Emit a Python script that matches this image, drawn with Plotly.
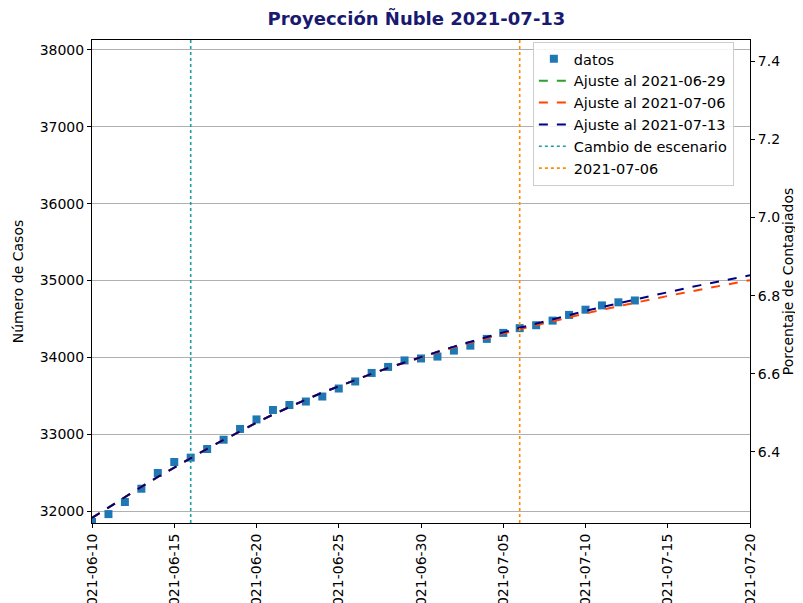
import plotly.graph_objects as go

# ---- data ----
fechas_datos = [
    "2021-06-10", "2021-06-11", "2021-06-12", "2021-06-13", "2021-06-14", "2021-06-15",
    "2021-06-16", "2021-06-17", "2021-06-18", "2021-06-19", "2021-06-20", "2021-06-21",
    "2021-06-22", "2021-06-23", "2021-06-24", "2021-06-25", "2021-06-26", "2021-06-27",
    "2021-06-28", "2021-06-29", "2021-06-30", "2021-07-01", "2021-07-02", "2021-07-03",
    "2021-07-04", "2021-07-05", "2021-07-06", "2021-07-07", "2021-07-08", "2021-07-09",
    "2021-07-10", "2021-07-11", "2021-07-12", "2021-07-13",
]
casos = [
    31857, 31960, 32117, 32290, 32495, 32638,
    32695, 32807, 32928, 33068, 33192, 33315,
    33380, 33425, 33490, 33594, 33686, 33797,
    33875, 33960, 33985, 34010, 34088, 34152,
    34240, 34318, 34380, 34418, 34478, 34552,
    34620, 34676, 34716, 34740,
]

fechas_ajuste = [
    "2021-06-10", "2021-06-11", "2021-06-12", "2021-06-13", "2021-06-14", "2021-06-15",
    "2021-06-16", "2021-06-17", "2021-06-18", "2021-06-19", "2021-06-20", "2021-06-21",
    "2021-06-22", "2021-06-23", "2021-06-24", "2021-06-25", "2021-06-26", "2021-06-27",
    "2021-06-28", "2021-06-29", "2021-06-30", "2021-07-01", "2021-07-02", "2021-07-03",
    "2021-07-04", "2021-07-05", "2021-07-06", "2021-07-07", "2021-07-08", "2021-07-09",
    "2021-07-10", "2021-07-11", "2021-07-12", "2021-07-13", "2021-07-14", "2021-07-15",
    "2021-07-16", "2021-07-17", "2021-07-18", "2021-07-19", "2021-07-20",
]
ajuste_0713 = [
    31910, 32047, 32182, 32314, 32443, 32569,
    32692, 32810, 32925, 33039, 33150, 33255,
    33355, 33450, 33540, 33625, 33707, 33786,
    33862, 33935, 34005, 34073, 34139, 34203,
    34265, 34325, 34384, 34441, 34497, 34551,
    34604, 34655, 34705, 34754, 34802, 34849,
    34895, 34940, 34984, 35027, 35068,
]
ajuste_0706 = [
    31910, 32047, 32182, 32314, 32443, 32569,
    32692, 32810, 32925, 33039, 33150, 33255,
    33355, 33450, 33540, 33625, 33707, 33786,
    33861, 33932, 34000, 34066, 34130, 34192,
    34252, 34310, 34366, 34420, 34472, 34523,
    34572, 34620, 34667, 34712, 34756, 34799,
    34841, 34882, 34922, 34961, 35005,
]
fechas_ajuste_0629 = fechas_ajuste[:27]
ajuste_0629 = [
    31912, 32049, 32184, 32316, 32445, 32571,
    32694, 32812, 32927, 33040, 33151, 33256,
    33356, 33451, 33541, 33626, 33707, 33786,
    33862, 33934, 34003, 34070, 34135, 34198,
    34259, 34318, 34376,
]

fecha_cambio = "2021-06-16"
fecha_ref = "2021-07-06"
poblacion = 511551
rango_casos = [31844, 38130]
rango_pct = [6.2184, 7.4537]
ticks_casos = [32000, 33000, 34000, 35000, 36000, 37000, 38000]
ticks_pct = [6.4, 6.6, 6.8, 7.0, 7.2, 7.4]
ticks_fechas = ["2021-06-10", "2021-06-15", "2021-06-20", "2021-06-25", "2021-06-30",
                "2021-07-05", "2021-07-10", "2021-07-15", "2021-07-20"]

FONT = "DejaVu Sans"
FS = 14

fig = go.Figure()
fig.add_trace(go.Scatter(x=fechas_datos, y=casos, mode="markers", name="datos",
                         marker=dict(symbol="square", size=8, color="#1f77b4")))
fig.add_trace(go.Scatter(x=fechas_ajuste_0629, y=ajuste_0629, mode="lines",
                         name="Ajuste al 2021-06-29",
                         line=dict(color="#2ca02c", dash="dash", width=2)))
fig.add_trace(go.Scatter(x=fechas_ajuste, y=ajuste_0706, mode="lines",
                         name="Ajuste al 2021-07-06",
                         line=dict(color="#ff4500", dash="dash", width=2)))
fig.add_trace(go.Scatter(x=fechas_ajuste, y=ajuste_0713, mode="lines",
                         name="Ajuste al 2021-07-13",
                         line=dict(color="#000080", dash="dash", width=2)))
fig.add_trace(go.Scatter(x=[fecha_cambio, fecha_cambio], y=rango_casos, mode="lines",
                         name="Cambio de escenario",
                         line=dict(color="#1a9fa8", dash="dot", width=1.6)))
fig.add_trace(go.Scatter(x=[fecha_ref, fecha_ref], y=rango_casos, mode="lines",
                         name="2021-07-06",
                         line=dict(color="#ff8c00", dash="dot", width=1.6)))
# invisible trace so the right axis is drawn
fig.add_trace(go.Scatter(x=fechas_datos, y=[c / poblacion * 100 for c in casos],
                         yaxis="y2", mode="markers", marker=dict(opacity=0),
                         showlegend=False, hoverinfo="skip"))

# the page body has an 8px margin, so the figure is sized/offset to compensate
fig.update_layout(
    width=795, height=595,
    margin=dict(l=84, r=53, t=32, b=80),
    paper_bgcolor="white", plot_bgcolor="white",
    font=dict(family=FONT, size=FS, color="black"),
    title=dict(text="<b>Proyección Ñuble 2021-07-13</b>", x=0.5138, xanchor="center",
               yref="container", y=0.982, yanchor="middle", automargin=False,
               font=dict(family=FONT, size=18, color="#191970")),
    xaxis=dict(range=["2021-06-10", "2021-07-20"], tickvals=ticks_fechas,
               ticktext=ticks_fechas, tickangle=-90, showgrid=False,
               showline=True, linecolor="black", linewidth=1, mirror=True,
               ticks="outside", ticklen=4, tickcolor="black", zeroline=False,
               automargin=False, tickfont=dict(size=FS)),
    yaxis=dict(range=rango_casos, tickvals=ticks_casos,
               ticktext=[str(v) for v in ticks_casos], showgrid=True,
               gridcolor="#b0b0b0", gridwidth=1,
               showline=True, linecolor="black", linewidth=1, mirror=True,
               ticks="outside", ticklen=4, tickcolor="black", zeroline=False,
               automargin=False, tickfont=dict(size=FS),
               title=dict(text="Número de Casos", standoff=12, font=dict(size=FS))),
    yaxis2=dict(range=rango_pct, tickvals=ticks_pct, ticktext=[f"{v:.1f}" for v in ticks_pct],
                overlaying="y", side="right", showgrid=False,
                showline=True, linecolor="black", linewidth=1,
                ticks="outside", ticklen=4, tickcolor="black", zeroline=False,
                automargin=False, tickfont=dict(size=FS),
                title=dict(text="Porcentaje de Contagiados", standoff=3, font=dict(size=FS))),
    legend=dict(x=0.67, y=0.996, xanchor="left", yanchor="top",
                bgcolor="rgba(255,255,255,0.85)", bordercolor="#cccccc", borderwidth=1,
                font=dict(family=FONT, size=14.5), tracegroupgap=0),
    showlegend=True,
)

fig.write_html("out.html")
